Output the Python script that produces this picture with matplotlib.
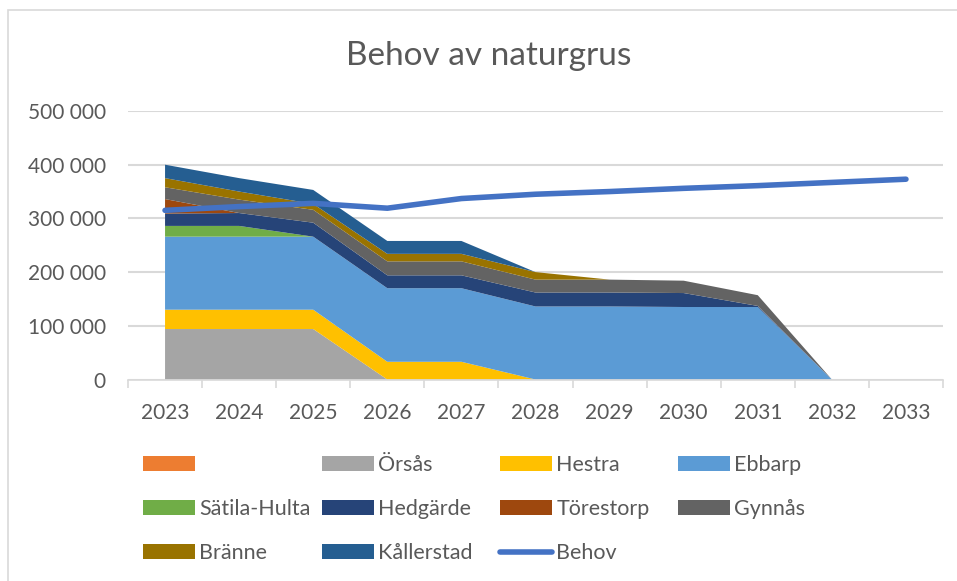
import numpy as np
import matplotlib
matplotlib.use('Agg')
import matplotlib.pyplot as plt
import matplotlib.ticker as mticker
from matplotlib.patches import Rectangle

plt.rcParams['font.family'] = ['Lato', 'DejaVu Sans']

years = [2023, 2024, 2025, 2026, 2027, 2028, 2029, 2030, 2031, 2032, 2033]

# tonnes per year
tom = [0, 0, 0, 0, 0, 0, 0, 0, 0, 0, 0]
orsas = [94000, 94000, 94000, 0, 0, 0, 0, 0, 0, 0, 0]
hestra = [36000, 36000, 36000, 33000, 33000, 0, 0, 0, 0, 0, 0]
ebbarp = [136000, 136000, 136000, 137000, 137000, 136000, 136000, 135000, 135000, 0, 0]
satila = [20000, 20000, 0, 0, 0, 0, 0, 0, 0, 0, 0]
hedgarde = [23000, 24000, 26000, 24000, 24000, 26000, 26000, 26000, 2000, 0, 0]
torestorp = [27000, 0, 0, 0, 0, 0, 0, 0, 0, 0, 0]
gynnas = [22000, 25000, 24000, 26000, 26000, 24000, 24000, 23000, 20000, 0, 0]
branne = [17000, 15000, 11000, 14000, 14000, 14000, 0, 0, 0, 0, 0]
kallerstad = [25000, 25000, 26000, 24000, 24000, 0, 0, 0, 0, 0, 0]
behov = [315000, 322000, 328000, 319000, 337000, 345000, 350000, 356000, 361000, 367000, 373000]

names = ['', 'Örsås', 'Hestra', 'Ebbarp', 'Sätila-Hulta', 'Hedgärde',
         'Törestorp', 'Gynnås', 'Bränne', 'Kållerstad']
colors = ['#ED7D31', '#A5A5A5', '#FFC000', '#5B9BD5', '#70AD47', '#264478',
          '#9E480E', '#636363', '#997300', '#255E91']
line_color = '#4472C4'
text_color = '#595959'
grid_color = '#D9D9D9'

W, H = 957, 581
fig = plt.figure(figsize=(W / 100, H / 100), dpi=100)

# chart border (cut off at the right and bottom like the screenshot)
fig.add_artist(Rectangle((8 / W, -0.05), 1.1, 1 - 10 / H + 0.05, transform=fig.transFigure,
                         fill=False, edgecolor=grid_color, linewidth=1.2))

ax = fig.add_axes([128 / W, (H - 379.5) / H, 815 / W, (379.5 - 111) / H])
x = np.arange(len(years))

polys = ax.stackplot(x, tom, orsas, hestra, ebbarp, satila, hedgarde, torestorp,
                     gynnas, branne, kallerstad, colors=colors, linewidth=0)
line, = ax.plot(x, behov, color=line_color, linewidth=4, solid_capstyle='round',
                solid_joinstyle='round', zorder=5)

ax.set_xlim(-0.5, len(years) - 0.5)
ax.set_ylim(0, 500000)
ax.set_yticks(np.arange(0, 500001, 100000))
ax.yaxis.set_major_formatter(mticker.FuncFormatter(lambda v, p: f'{int(v):,}'.replace(',', ' ')))
ax.set_xticks(x)
ax.set_xticklabels([str(y) for y in years])
ax.set_xticks(np.arange(-0.5, len(years), 1.0), minor=True)
ax.tick_params(axis='x', which='major', length=0, pad=17, labelsize=15, labelcolor=text_color)
ax.tick_params(axis='x', which='minor', length=6, width=1.2, color=grid_color)
ax.tick_params(axis='y', length=0, pad=16, labelsize=15, labelcolor=text_color)
ax.grid(axis='y', color=grid_color, linewidth=1.5)
ax.set_axisbelow(True)
for s in ['top', 'right', 'left']:
    ax.spines[s].set_visible(False)
ax.spines['bottom'].set_color(grid_color)
ax.spines['bottom'].set_linewidth(1.2)

fig.text(489 / W, 1 - 56 / H, 'Behov av naturgrus', ha='center', va='center',
         fontsize=24, color=text_color)

# legend, row-major like Excel: four columns placed one by one
handles = list(polys) + [line]
labels = names + ['Behov']
col_x = [143, 322, 500, 678]
for c in range(4):
    hs = handles[c::4]
    ls = labels[c::4]
    fig.legend(hs, ls, loc='upper left', bbox_to_anchor=(col_x[c] / W, 1 - 455 / H),
               frameon=False, fontsize=15.5, labelcolor=text_color, handlelength=2.4,
               handleheight=0.65, handletextpad=0.22, borderpad=0, borderaxespad=0,
               labelspacing=1.12)

fig.savefig('out.png', dpi=100)
